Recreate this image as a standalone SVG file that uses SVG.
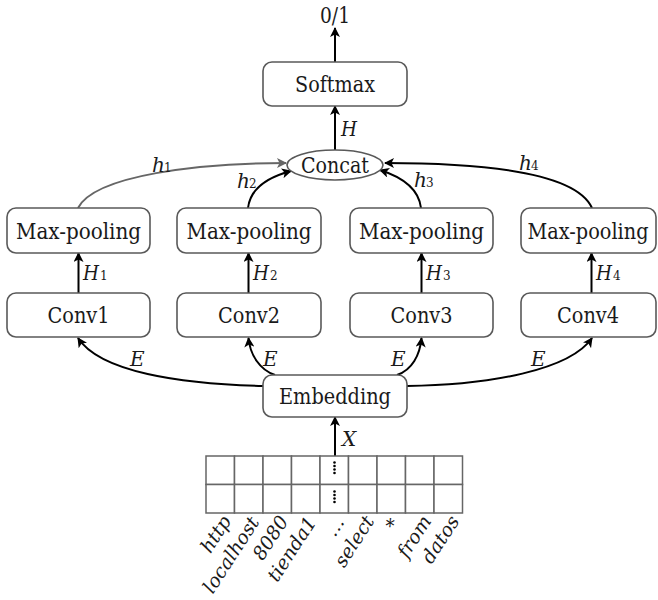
<svg xmlns="http://www.w3.org/2000/svg" width="658" height="600" viewBox="0 0 658 600" font-family="'DejaVu Serif', serif">
<defs>
<marker id="ah" viewBox="0 0 10 10" refX="9" refY="5" markerWidth="11" markerHeight="10" markerUnits="userSpaceOnUse" orient="auto"><path d="M0,0 L10,5 L0,10 L2.5,5 z" fill="#000"/></marker>
<marker id="ahg" viewBox="0 0 10 10" refX="9" refY="5" markerWidth="11" markerHeight="10" markerUnits="userSpaceOnUse" orient="auto"><path d="M0,0 L10,5 L0,10 L2.5,5 z" fill="#666"/></marker>
</defs>
<style>
.box{fill:#fff;stroke:#595959;stroke-width:1.6}
.t{font-size:22px;fill:#1a1a1a;text-anchor:middle}
.it{font-style:italic;font-size:20px;fill:#1a1a1a}
.sub{font-size:12px;fill:#1a1a1a}
.lab{font-style:italic;font-size:19px;fill:#1a1a1a;text-anchor:end}
.c{fill:none;stroke:#000;stroke-width:2}
.cg{fill:none;stroke:#666;stroke-width:2}
.cell{fill:#fff;stroke:#666;stroke-width:1.5}
</style>
<rect width="658" height="600" fill="#fff"/>

<g id="connectors">
<line class="c" x1="335" y1="62" x2="335" y2="28" marker-end="url(#ah)"/>
<line class="c" x1="335" y1="150" x2="335" y2="106" marker-end="url(#ah)"/>
<line class="c" x1="78.5" y1="293" x2="78.5" y2="253" marker-end="url(#ah)"/>
<line class="c" x1="248.5" y1="293" x2="248.5" y2="253" marker-end="url(#ah)"/>
<line class="c" x1="421.5" y1="293" x2="421.5" y2="253" marker-end="url(#ah)"/>
<line class="c" x1="591.5" y1="293" x2="591.5" y2="253" marker-end="url(#ah)"/>
<line class="c" x1="335" y1="456" x2="335" y2="417" marker-end="url(#ah)"/>
<path class="cg" d="M78,208 C95,175 200,163 286,163" marker-end="url(#ahg)"/>
<path class="c" d="M248,208 C250,190 265,178 291,171" marker-end="url(#ah)"/>
<path class="c" d="M421,208 C419,190 405,178 380,170" marker-end="url(#ah)"/>
<path class="c" d="M592,208 C575,170 470,163 385,163" marker-end="url(#ah)"/>
<path class="c" d="M263,386 C180,384 100,372 78,338" marker-end="url(#ah)"/>
<path class="c" d="M275,375 C260,370 250,355 248.5,338" marker-end="url(#ah)"/>
<path class="c" d="M397,375 C412,370 420,355 421.5,338" marker-end="url(#ah)"/>
<path class="c" d="M407,386 C490,385 570,370 592,338" marker-end="url(#ah)"/>
<text class="t" x="335" y="23" textLength="30" lengthAdjust="spacingAndGlyphs">0/1</text>
<text class="it" x="341" y="136" textLength="16" lengthAdjust="spacingAndGlyphs">H</text>
<text class="it" x="83" y="280" textLength="16" lengthAdjust="spacingAndGlyphs">H</text><text class="sub" x="100" y="280">1</text>
<text class="it" x="253" y="280" textLength="16" lengthAdjust="spacingAndGlyphs">H</text><text class="sub" x="270" y="280">2</text>
<text class="it" x="426" y="280" textLength="16" lengthAdjust="spacingAndGlyphs">H</text><text class="sub" x="443" y="280">3</text>
<text class="it" x="596" y="280" textLength="16" lengthAdjust="spacingAndGlyphs">H</text><text class="sub" x="613" y="280">4</text>
<text class="it" x="152" y="172">h</text><text class="sub" x="164" y="172">1</text>
<text class="it" x="237" y="188">h</text><text class="sub" x="249" y="188">2</text>
<text class="it" x="414" y="187">h</text><text class="sub" x="426" y="187">3</text>
<text class="it" x="519" y="170">h</text><text class="sub" x="531" y="170">4</text>
<text class="it" x="130" y="366">E</text>
<text class="it" x="263" y="366">E</text>
<text class="it" x="391" y="366">E</text>
<text class="it" x="531" y="366">E</text>
<text class="it" x="342" y="446">X</text>
</g>

<g id="softmax"><rect class="box" x="263" y="62" width="144" height="44" rx="9"/><text class="t" x="335" y="92" textLength="80" lengthAdjust="spacingAndGlyphs">Softmax</text></g>
<g id="concat"><ellipse cx="335" cy="165" rx="48" ry="15" fill="#fff" stroke="#595959" stroke-width="1.6"/><text class="t" x="335" y="172.5" textLength="68" lengthAdjust="spacingAndGlyphs">Concat</text></g>

<g id="maxpool1"><rect class="box" x="7" y="208" width="143" height="45" rx="9"/><text class="t" x="78.5" y="238.5" textLength="125" lengthAdjust="spacingAndGlyphs">Max-pooling</text></g>
<g id="maxpool2"><rect class="box" x="177" y="208" width="144" height="45" rx="9"/><text class="t" x="249" y="238.5" textLength="125" lengthAdjust="spacingAndGlyphs">Max-pooling</text></g>
<g id="maxpool3"><rect class="box" x="350" y="208" width="143" height="45" rx="9"/><text class="t" x="421.5" y="238.5" textLength="125" lengthAdjust="spacingAndGlyphs">Max-pooling</text></g>
<g id="maxpool4"><rect class="box" x="521" y="208" width="135" height="45" rx="9"/><text class="t" x="588" y="238.5" textLength="121" lengthAdjust="spacingAndGlyphs">Max-pooling</text></g>

<g id="conv1"><rect class="box" x="7" y="293" width="143" height="44" rx="9"/><text class="t" x="78.5" y="323" textLength="62" lengthAdjust="spacingAndGlyphs">Conv1</text></g>
<g id="conv2"><rect class="box" x="177" y="293" width="144" height="44" rx="9"/><text class="t" x="249" y="323" textLength="62" lengthAdjust="spacingAndGlyphs">Conv2</text></g>
<g id="conv3"><rect class="box" x="350" y="293" width="143" height="44" rx="9"/><text class="t" x="421.5" y="323" textLength="62" lengthAdjust="spacingAndGlyphs">Conv3</text></g>
<g id="conv4"><rect class="box" x="521" y="293" width="135" height="44" rx="9"/><text class="t" x="588" y="323" textLength="62" lengthAdjust="spacingAndGlyphs">Conv4</text></g>

<g id="embedding"><rect class="box" x="263" y="375" width="144" height="42" rx="9"/><text class="t" x="335" y="403.5" textLength="112" lengthAdjust="spacingAndGlyphs">Embedding</text></g>

<g id="input">
<rect class="cell" x="206" y="456" width="28.5" height="28.5"/>
<rect class="cell" x="234.5" y="456" width="28.5" height="28.5"/>
<rect class="cell" x="263" y="456" width="28.5" height="28.5"/>
<rect class="cell" x="291.5" y="456" width="28.5" height="28.5"/>
<rect class="cell" x="320" y="456" width="28.5" height="28.5"/>
<rect class="cell" x="348.5" y="456" width="28.5" height="28.5"/>
<rect class="cell" x="377" y="456" width="28.5" height="28.5"/>
<rect class="cell" x="405.5" y="456" width="28.5" height="28.5"/>
<rect class="cell" x="434" y="456" width="28.5" height="28.5"/>
<rect class="cell" x="206" y="484.5" width="28.5" height="28.5"/>
<rect class="cell" x="234.5" y="484.5" width="28.5" height="28.5"/>
<rect class="cell" x="263" y="484.5" width="28.5" height="28.5"/>
<rect class="cell" x="291.5" y="484.5" width="28.5" height="28.5"/>
<rect class="cell" x="320" y="484.5" width="28.5" height="28.5"/>
<rect class="cell" x="348.5" y="484.5" width="28.5" height="28.5"/>
<rect class="cell" x="377" y="484.5" width="28.5" height="28.5"/>
<rect class="cell" x="405.5" y="484.5" width="28.5" height="28.5"/>
<rect class="cell" x="434" y="484.5" width="28.5" height="28.5"/>
<g fill="#000">
<circle cx="334.5" cy="462.5" r="1.3"/><circle cx="334.5" cy="466" r="1.3"/><circle cx="334.5" cy="469.5" r="1.3"/><circle cx="334.5" cy="473" r="1.3"/>
<circle cx="334.5" cy="491.5" r="1.3"/><circle cx="334.5" cy="495" r="1.3"/><circle cx="334.5" cy="498.5" r="1.3"/><circle cx="334.5" cy="502" r="1.3"/>
</g>
<text class="lab" transform="translate(232,521) rotate(-57)">http</text>
<text class="lab" transform="translate(260,522) rotate(-57)">localhost</text>
<text class="lab" transform="translate(289,521) rotate(-57)">8080</text>
<text class="lab" transform="translate(317,522) rotate(-57)">tienda1</text>
<text class="lab" transform="translate(345,522) rotate(-57)">…</text>
<text class="lab" transform="translate(375,521) rotate(-57)">select</text>
<text class="lab" transform="translate(401,524) rotate(-57)">*</text>
<text class="lab" transform="translate(432,521) rotate(-57)">from</text>
<text class="lab" transform="translate(460,521) rotate(-57)">datos</text>
</g>
</svg>
